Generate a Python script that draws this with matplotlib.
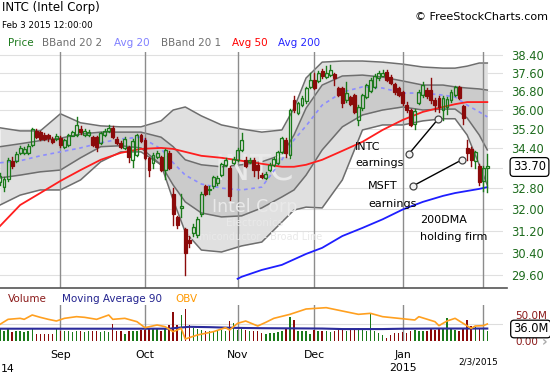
import matplotlib
matplotlib.use("Agg")
import matplotlib.pyplot as plt
from matplotlib.lines import Line2D
from matplotlib.ticker import NullLocator

# trading day index: 0 = Aug 11 2014 ... 121 = Feb 3 2015
opens = [33.05, 32.85, 33.15, 33.90, 33.90, 34.20, 34.22, 34.22, 34.54, 35.12,
         35.08, 34.95, 34.95, 34.78, 34.78, 34.82, 34.46, 34.54, 34.92, 34.95,
         35.20, 34.95, 34.95, 34.84, 34.84, 34.62, 34.95, 35.10, 35.24, 34.78,
         34.62, 34.42, 34.45, 33.94, 34.14, 34.95, 34.74, 34.02, 33.82, 34.06,
         34.06, 33.54, 34.22, 32.60, 31.70, 32.06, 31.25, 30.85, 31.10, 31.04,
         31.81, 32.88, 32.72, 32.88, 33.00, 33.34, 33.74, 33.62, 33.80, 33.94,
         34.34, 33.94, 33.86, 33.94, 33.74, 33.34, 33.20, 33.54, 33.74, 33.82,
         34.26, 34.74, 34.14, 36.41, 35.87, 36.20, 36.37, 37.00, 37.30, 37.27,
         37.70, 37.43, 37.52, 37.55, 36.93, 36.93, 36.41, 36.56, 36.63, 35.57,
         36.07, 36.54, 36.80, 37.00, 37.38, 37.48, 37.64, 37.43, 37.12, 36.93,
         36.75, 36.20, 35.99, 35.40, 36.30, 36.63, 36.85, 36.85, 36.41, 36.50,
         35.99, 36.11, 36.41, 36.63, 36.98, 36.15, 34.42, 34.38, 33.90, 33.70,
         33.07, 33.62]
highs = [33.42, 33.25, 34.00, 34.05, 34.25, 34.50, 34.45, 34.55, 35.25, 35.20,
         35.12, 35.02, 35.00, 34.85, 35.00, 34.90, 34.78, 35.00, 35.10, 35.70,
         35.30, 35.20, 35.15, 34.90, 34.90, 35.06, 35.20, 35.35, 35.30, 34.85,
         34.68, 34.85, 34.50, 34.78, 35.00, 35.00, 34.80, 34.06, 34.20, 34.30,
         34.10, 34.38, 34.30, 32.80, 31.75, 32.60, 31.30, 31.00, 31.45, 31.70,
         32.65, 32.95, 32.90, 33.30, 33.30, 33.82, 34.00, 33.70, 34.05, 34.40,
         35.02, 34.05, 34.00, 34.00, 33.80, 33.40, 33.45, 33.80, 34.05, 34.30,
         34.85, 34.80, 36.05, 36.60, 36.35, 36.60, 37.00, 37.62, 37.62, 37.70,
         37.80, 37.90, 37.95, 37.62, 37.00, 36.98, 37.20, 36.60, 36.70, 36.20,
         36.70, 37.12, 37.40, 37.55, 37.70, 37.72, 37.75, 37.52, 37.18, 37.00,
         36.80, 36.35, 36.05, 36.05, 36.85, 37.20, 36.95, 37.38, 36.50, 36.60,
         36.60, 36.55, 36.85, 37.05, 37.05, 36.20, 34.74, 34.45, 34.30, 33.75,
         33.70, 34.15]
lows = [32.93, 32.70, 33.10, 33.60, 33.85, 34.15, 34.15, 34.18, 34.50, 34.80,
        34.72, 34.72, 34.70, 34.60, 34.74, 34.45, 34.40, 34.50, 34.88, 34.92,
        35.00, 34.90, 34.92, 34.50, 34.30, 34.58, 34.90, 35.05, 34.82, 34.58,
        34.40, 34.38, 33.85, 33.64, 34.10, 34.65, 33.98, 33.28, 33.60, 34.00,
        33.50, 33.15, 33.58, 31.40, 31.30, 31.70, 29.60, 30.60, 31.00, 30.95,
        31.75, 32.55, 32.60, 32.80, 32.95, 33.30, 33.70, 32.37, 33.75, 33.90,
        34.30, 33.65, 33.80, 33.30, 33.22, 33.20, 33.15, 33.50, 33.70, 33.78,
        34.22, 34.05, 34.00, 35.90, 35.80, 36.15, 36.30, 36.95, 36.90, 37.20,
        37.40, 37.38, 37.48, 37.07, 36.58, 36.10, 36.35, 36.20, 35.85, 35.36,
        36.00, 36.50, 36.75, 36.95, 37.30, 37.45, 37.25, 37.10, 36.70, 36.58,
        36.20, 35.90, 35.30, 35.20, 36.25, 36.55, 36.50, 36.30, 35.95, 35.90,
        35.57, 35.80, 36.35, 36.58, 36.45, 35.40, 33.94, 33.70, 33.62, 32.95,
        32.70, 32.65]
closes = [33.30, 33.15, 33.94, 33.70, 34.15, 34.42, 34.38, 34.50, 35.20, 34.86,
          34.78, 34.78, 34.80, 34.66, 34.90, 34.54, 34.74, 34.95, 35.05, 35.36,
          35.05, 35.12, 35.08, 34.54, 34.45, 35.02, 35.12, 35.25, 34.86, 34.62,
          34.45, 34.78, 34.05, 34.70, 34.95, 34.70, 34.02, 33.54, 34.14, 34.22,
          33.54, 34.34, 33.62, 31.81, 31.40, 32.14, 30.40, 30.75, 31.35, 31.62,
          32.60, 32.60, 32.78, 33.26, 33.20, 33.78, 33.94, 32.50, 33.95, 34.34,
          34.74, 33.70, 33.94, 33.54, 33.54, 33.26, 33.38, 33.74, 33.98, 34.26,
          34.80, 34.22, 35.99, 35.99, 36.28, 36.50, 36.93, 37.29, 36.95, 37.60,
          37.47, 37.60, 37.73, 37.38, 36.63, 36.28, 36.72, 36.25, 35.90, 36.11,
          36.63, 37.07, 37.29, 37.45, 37.60, 37.60, 37.30, 37.16, 36.75, 36.63,
          36.30, 35.99, 35.36, 35.95, 36.75, 37.07, 36.60, 36.41, 36.20, 36.11,
          36.50, 36.45, 36.75, 36.98, 36.50, 35.65, 34.22, 33.94, 34.26, 33.05,
          33.62, 33.70]
volume = [36, 30, 39, 27, 30, 30, 27, 30, 39, 21, 21, 21, 20, 20, 35, 30, 28, 28,
          26, 28, 28, 26, 28, 30, 28, 26, 28, 26, 48, 30, 30, 20, 30, 30, 30, 31,
          33, 35, 36, 38, 30, 36, 45, 84, 45, 75, 92, 45, 38, 36, 32, 30, 28, 30,
          30, 33, 30, 57, 52, 33, 36, 32, 30, 30, 30, 24, 20, 22, 24, 26, 30, 36,
          69, 60, 30, 28, 30, 20, 33, 30, 28, 30, 26, 30, 32, 34, 30, 32, 36, 38,
          33, 30, 81, 30, 24, 18, 10, 16, 22, 24, 26, 24, 30, 32, 30, 28, 30, 34,
          33, 36, 38, 66, 36, 33, 30, 34, 60, 44, 40, 38, 35, 30]

band_days = [0, 5, 10, 15, 20, 25, 30, 35, 40, 43, 46, 50, 55, 60, 65, 70, 73, 76,
             80, 85, 90, 95, 100, 105, 110, 113, 116, 119, 121]
bb2_upper = [35.24, 35.11, 35.11, 35.83, 35.45, 35.32, 35.28, 35.28, 35.53, 35.99,
             36.12, 35.74, 35.36, 35.19, 35.06, 35.15, 36.07, 37.38, 38.09, 38.14,
             38.14, 38.09, 38.00, 37.87, 37.82, 37.82, 37.91, 38.05, 38.05]
bb1_upper = [34.46, 34.58, 34.71, 34.81, 34.98, 35.06, 35.06, 35.06, 34.85, 34.46,
             33.93, 33.73, 33.65, 33.73, 33.85, 34.13, 34.94, 36.07, 37.07, 37.47,
             37.51, 37.42, 37.25, 37.07, 37.07, 36.99, 36.94, 36.90, 36.85]
avg20 = [33.81, 33.89, 34.09, 34.25, 34.41, 34.62, 34.78, 34.85, 34.37, 33.81,
         33.32, 32.97, 32.81, 32.74, 32.85, 33.93, 34.74, 35.32, 36.20, 36.76,
         36.99, 36.94, 36.72, 36.72, 36.63, 36.55, 36.20, 35.91, 35.70]
bb1_lower = [33.21, 33.32, 33.45, 33.52, 34.01, 34.46, 34.50, 34.41, 33.73, 32.93,
             32.28, 31.86, 31.71, 31.75, 32.05, 32.47, 32.74, 33.32, 34.33, 35.28,
             35.78, 35.99, 36.12, 35.99, 36.03, 36.03, 35.65, 34.94, 34.33]
bb2_lower = [32.16, 32.54, 32.74, 32.74, 33.13, 33.85, 34.25, 34.25, 33.73, 32.35,
             31.15, 30.49, 30.42, 30.64, 30.78, 31.52, 31.97, 32.08, 32.05, 33.13,
             35.15, 35.36, 35.36, 35.53, 35.62, 35.62, 34.94, 33.73, 32.93]
avg50 = [31.37, 32.16, 32.62, 33.09, 33.52, 33.93, 34.21, 34.37, 34.41, 34.37,
         34.25, 34.09, 34.01, 33.89, 33.77, 33.65, 33.65, 33.73, 33.93, 34.29,
         34.66, 35.15, 35.57, 35.91, 36.12, 36.24, 36.33, 36.33, 36.33]

avg200_days = [59, 60, 65, 70, 76, 80, 85, 90, 95, 100, 105, 110, 113, 116, 119, 121]
avg200 = [29.47, 29.54, 29.78, 29.96, 30.35, 30.57, 31.00, 31.30, 31.62, 31.99,
          32.28, 32.51, 32.62, 32.70, 32.78, 32.85]

ma90_days = [0, 42, 44, 47, 52, 58, 65, 80, 85, 95, 100, 108, 116, 121]
ma90 = [35.5, 35.5, 38, 41, 40, 38, 37, 36, 34.5, 34.5, 35.5, 36, 36, 36]

obv_days = [0, 2, 5, 6, 8, 10, 12, 14, 16, 19, 21, 24, 27, 28, 31, 34, 36, 39, 41,
            43, 45, 46, 49, 53, 56, 57, 59, 61, 64, 66, 68, 72, 76, 81, 85, 89, 92,
            95, 99, 103, 104, 108, 109, 111, 113, 115, 117, 118, 120, 121]
obv = [310, 385, 400, 385, 450, 415, 385, 360, 400, 425, 415, 385, 450, 385, 400,
       350, 260, 300, 275, 200, 250, 90, 150, 200, 260, 225, 325, 360, 285, 340,
       400, 460, 540, 560, 510, 460, 475, 425, 400, 375, 425, 350, 290, 360, 400,
       325, 250, 285, 290, 315]

month_days = [15, 36, 59, 78, 100, 120]
month_labels = ["Sep", "Oct", "Nov", "Dec", "Jan"]
price_ticks = [29.60, 30.40, 31.20, 32.00, 32.80, 33.60, 34.40, 35.20, 36.00,
               36.80, 37.60, 38.40]
hidden_tick = 33.60  # covered by the last-price box

# annotation points (day, price)
intc_pts = ([101.6, 108.8], [34.18, 35.61])
msft_pts = ([102.6, 114.7], [32.90, 33.93])

W, H = 550, 375
GREEN = "#1a7a1a"
RED = "#8b0a0a"


def rect(x0, y0, x1, y1):
    return [x0 / W, 1 - y1 / H, (x1 - x0) / W, (y1 - y0) / H]


fig = plt.figure(figsize=(5.5, 3.75), dpi=100)
fig.patch.set_facecolor("white")

ax = fig.add_axes(rect(0, 52, 503, 288))
ax.set_xlim(0, 124.9)
ax.set_yscale("log")
ax.set_ylim(29.15, 38.55)
for s in ax.spines.values():
    s.set_visible(False)
ax.yaxis.tick_right()
ax.set_yticks(price_ticks)
ax.set_yticklabels(["" if t == hidden_tick else "%.2f" % t for t in price_ticks])
ax.yaxis.set_minor_locator(NullLocator())
ax.tick_params(axis="y", length=0, pad=6, labelsize=8.3, labelcolor="#1d6b1d")
ax.set_xticks([])
ax.grid(axis="y", color="#e0e0e0", lw=0.8)
ax.set_axisbelow(True)

# bollinger bands
ax.fill_between(band_days, bb2_lower, bb2_upper, color="#e0e0e0", lw=0, zorder=1)
ax.fill_between(band_days, bb1_lower, bb1_upper, color="#cbcbcb", lw=0, zorder=1.1)
for band in (bb2_upper, bb1_upper, bb1_lower, bb2_lower):
    ax.plot(band_days, band, color="#6e6e6e", lw=1.1, zorder=1.2)

for d in month_days:
    ax.axvline(d, color="#8c8c8c", lw=1, zorder=1.5)

# watermark
wm = dict(color="#e9e9e9", ha="center", va="center", zorder=1.6)
ax.text(63.3, 33.55, "INTC", fontsize=25, **wm)
ax.text(63.3, 32.1, "Intel Corp", fontsize=12.5, **wm)
ax.text(63.3, 31.5, "Electronics", fontsize=7.5, **wm)
ax.text(63.3, 30.95, "Semiconductor - Broad Line", fontsize=7, **wm)

ax.plot(band_days, avg20, color="#8c8cff", lw=1.2, dashes=(2.2, 2.2), zorder=2)
ax.plot(band_days, avg50, color="#ff1e1e", lw=1.3, zorder=2.1)
ax.plot(avg200_days, avg200, color="#1e1eff", lw=1.3, zorder=2.1)

# candles
for i in range(len(closes)):
    o, h, l, c = opens[i], highs[i], lows[i], closes[i]
    up = c >= o
    col = GREEN if up else RED
    top, bot = max(o, c), min(o, c)
    ax.plot([i, i], [top, h], color=col, lw=1, zorder=3)
    ax.plot([i, i], [l, bot], color=col, lw=1, zorder=3)
    ax.bar(i, top - bot, bottom=bot, width=0.72, zorder=3.1,
           facecolor="none" if up else col, edgecolor=col, lw=0.9)

# annotations
for pts in (intc_pts, msft_pts):
    ax.plot(pts[0], pts[1], color="black", lw=1, zorder=5)
    ax.plot(pts[0], pts[1], "o", ms=5, mfc="#f2f2f2", mec="#444444", mew=0.9,
            zorder=5.1)
note = dict(fontsize=8, color="black", va="center", ha="left", zorder=5)
ax.text(88.2, 34.46, "INTC", **note)
ax.text(88.2, 33.81, "earnings", **note)
ax.text(91.4, 32.89, "MSFT", **note)
ax.text(91.4, 32.20, "earnings", **note)
ax.text(104.3, 31.58, "200DMA", **note)
ax.text(104.3, 30.97, "holding firm", **note)

fig.add_artist(Line2D([0, 507 / W], [1 - 288 / H] * 2, color="#555555", lw=1.2))

# volume panel
vax = fig.add_axes(rect(0, 305, 503, 341))
vax.set_xlim(0, 124.9)
vax.set_ylim(0, 104)
vax.axis("off")
vax.axhline(50, color="#dddddd", lw=0.8, zorder=0)
for d in month_days:
    vax.axvline(d, color="#8c8c8c", lw=1, zorder=0.5)
vcols = [GREEN if closes[i] >= opens[i] else RED for i in range(len(volume))]
vax.bar(range(len(volume)), volume, width=0.35, color=vcols, zorder=1)
vax.plot(ma90_days, ma90, color="#2b2b9b", lw=1.5, zorder=2)

oax = fig.add_axes(rect(0, 305, 503, 341))
oax.set_xlim(0, 124.9)
oax.set_ylim(60, 600)
oax.axis("off")
oax.plot(obv_days, obv, color="#ffa020", lw=1.2)

xt = vax.get_xaxis_transform()
for d, lab in zip(month_days, month_labels):
    vax.text(d, -0.39, lab, transform=xt, ha="center", va="center", fontsize=7.8)
vax.text(100, -0.75, "2015", transform=xt, ha="center", va="center", fontsize=7.8)
vax.text(118.8, -0.57, "2/3/2015", transform=xt, ha="center", va="center",
         fontsize=6.4)

# header texts
fig.text(2 / W, 1 - 8 / H, "INTC (Intel Corp)", fontsize=8.5, va="center")
fig.text(2 / W, 1 - 25 / H, "Feb 3 2015 12:00:00", fontsize=6.3, va="center")
fig.text(415 / W, 1 - 17 / H, "\u00a9 FreeStockCharts.com", fontsize=8, va="center")
legend = [("Price", 8, "#1e7b1e"), ("BBand 20 2", 42, "#707070"),
          ("Avg 20", 114, "#8080ff"), ("BBand 20 1", 161, "#707070"),
          ("Avg 50", 232, "#ff0000"), ("Avg 200", 278, "#2525ff")]
for txt, x, col in legend:
    fig.text(x / W, 1 - 43 / H, txt, fontsize=7.5, color=col, va="center")
vleg = [("Volume", 8, "#8b1a1a"), ("Moving Average 90", 62, "#23238f"),
        ("OBV", 175, "#ff9900")]
for txt, x, col in vleg:
    fig.text(x / W, 1 - 299 / H, txt, fontsize=7.5, color=col, va="center")
fig.text(1 / W, 1 - 369 / H, "14", fontsize=7.8, va="center")

# right-hand value boxes
fig.text(513 / W, 1 - 167 / H, "33.70", fontsize=8.3, va="center", color="black",
         bbox=dict(boxstyle="round,pad=0.25,rounding_size=0.3", fc="white",
                   ec="black", lw=0.9))
fig.text(515 / W, 1 - 316 / H, "50.0M", fontsize=7.5, va="center", color="#8b1a1a")
fig.text(515 / W, 1 - 342 / H, "0.00", fontsize=7.5, va="center", color="#8b1a1a")
fig.text(513 / W, 1 - 329 / H, "36.0M", fontsize=8.3, va="center", color="black",
         bbox=dict(boxstyle="round,pad=0.2,rounding_size=0.3", fc="white",
                   ec="black", lw=0.9))
fig.text(542 / W, 1 - 342 / H, "\u203a", fontsize=10, va="center", color="#aaaaaa",
         fontweight="bold")

fig.savefig("out.png", dpi=100)
